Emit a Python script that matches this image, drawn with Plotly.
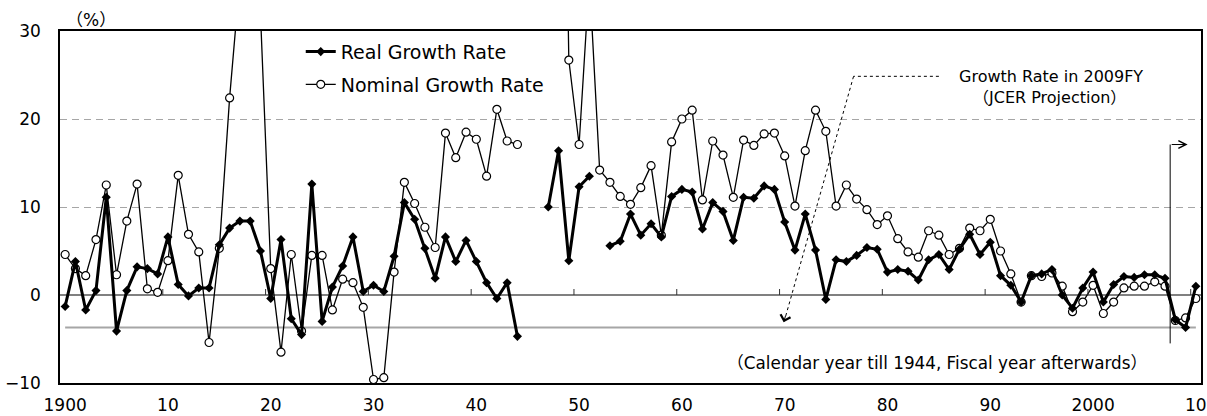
import plotly.graph_objects as go

# ---------------- data ----------------
years = list(range(1900, 2011))

real_growth = [
    -1.3, 3.8, -1.7, 0.5, 11.1, -4.1, 0.5, 3.2, 3.0, 2.4,          # 1900-1909
    6.6, 1.2, -0.1, 0.8, 0.8, 5.7, 7.6, 8.4, 8.4, 5.0,              # 1910-1919
    -0.4, 6.3, -2.7, -4.5, 12.6, -3.0, 0.9, 3.3, 6.6, 0.4,          # 1920-1929
    1.1, 0.4, 4.4, 10.5, 8.6, 5.3, 1.9, 6.6, 3.8, 6.2,              # 1930-1939
    3.8, 1.4, -0.4, 1.4, -4.7, None, None, 10.0, 16.4, 3.9,         # 1940-1949
    12.3, 13.5, None, 5.6, 6.1, 9.2, 6.8, 8.1, 6.6, 11.2,           # 1950-1959
    12.0, 11.7, 7.5, 10.5, 9.5, 6.2, 11.1, 11.0, 12.4, 12.0,        # 1960-1969
    8.3, 5.1, 9.2, 5.1, -0.5, 4.0, 3.8, 4.5, 5.4, 5.2,              # 1970-1979
    2.6, 2.9, 2.7, 1.7, 4.0, 4.6, 2.9, 5.2, 6.9, 4.6,               # 1980-1989
    6.0, 2.2, 1.1, -0.8, 2.2, 2.4, 2.9, 0.0, -1.5, 0.8,             # 1990-1999
    2.6, -0.8, 1.2, 2.1, 2.0, 2.3, 2.3, 1.9, -2.8, -3.7,            # 2000-2009
    1.0,                                                            # 2010
]

nominal_growth = [
    4.6, 3.0, 2.2, 6.3, 12.5, 2.3, 8.4, 12.6, 0.7, 0.3,             # 1900-1909
    3.9, 13.6, 6.9, 4.9, -5.4, 5.3, 22.4, 36.0, 40.0, 32.0,         # 1910-1919
    3.0, -6.5, 4.6, -4.1, 4.5, 4.5, -1.7, 1.8, 1.4, -1.4,           # 1920-1929
    -9.6, -9.4, 2.6, 12.8, 10.4, 7.7, 5.4, 18.4, 15.6, 18.5,        # 1930-1939
    17.7, 13.5, 21.1, 17.5, 17.1, None, None, 140.0, 100.0, 26.7,   # 1940-1949
    17.1, 36.0, 14.2, 12.8, 11.2, 10.3, 12.2, 14.7, 6.8, 17.4,      # 1950-1959
    20.0, 21.0, 10.8, 17.5, 15.9, 11.1, 17.6, 17.0, 18.3, 18.4,     # 1960-1969
    15.8, 10.1, 16.4, 21.0, 18.6, 10.1, 12.5, 10.9, 9.7, 8.0,       # 1970-1979
    9.0, 6.4, 4.9, 4.3, 7.3, 6.8, 4.6, 5.3, 7.6, 7.3,               # 1980-1989
    8.6, 5.0, 2.4, -0.8, 2.2, 2.1, 2.5, 1.0, -1.9, -0.8,            # 1990-1999
    1.1, -2.1, -0.8, 0.8, 1.0, 1.0, 1.5, 1.0, -2.9, -2.6,           # 2000-2009
    -0.4,                                                           # 2010
]

tick_years = [1900, 1910, 1920, 1930, 1940, 1950, 1960, 1970, 1980, 1990, 2000, 2010]
tick_labels = ["1900", "10", "20", "30", "40", "50", "60", "70", "80", "90", "2000", "10"]
y_ticks = [-10, 0, 10, 20, 30]
boundary_ticks = [y - 0.5 for y in tick_years[1:]]   # tick marks between categories

projection_year = 2009
projection_value = real_growth[years.index(projection_year)]
projection_start = 2007.5

FONT = "DejaVu Sans, Noto Sans CJK JP, sans-serif"

fig = go.Figure()

# horizontal reference line: 2009FY projected growth
fig.add_trace(go.Scatter(
    x=[years[0], years[-1]], y=[projection_value, projection_value],
    mode="lines", line=dict(color="#a6a6a6", width=2),
    showlegend=False, hoverinfo="skip"))

fig.add_trace(go.Scatter(
    x=years, y=nominal_growth, name="Nominal Growth Rate",
    mode="lines+markers", legendgroup="n", legendrank=2,
    line=dict(color="black", width=1.3),
    marker=dict(symbol="circle", size=8, color="white",
                line=dict(color="black", width=1.2))))

fig.add_trace(go.Scatter(
    x=years, y=real_growth, name="Real Growth Rate",
    mode="lines+markers", legendgroup="r", legendrank=1,
    line=dict(color="black", width=3),
    marker=dict(symbol="diamond", size=7, color="black")))

# tick marks sitting on the zero line
shapes = []
for bx in boundary_ticks:
    shapes.append(dict(type="line", xref="x", yref="y", x0=bx, x1=bx,
                       ysizemode="pixel", yanchor=0, y0=0, y1=6,
                       line=dict(color="#333333", width=1)))

# dotted leader for the JCER projection text
shapes.append(dict(type="line", xref="x", yref="y", x0=1985.0, y0=24.85, x1=1976.7, y1=24.85,
                   line=dict(color="black", width=1, dash="dot")))
shapes.append(dict(type="line", xref="x", yref="y", x0=1976.7, y0=24.85, x1=1969.95, y1=-3.0,
                   line=dict(color="black", width=1, dash="dot")))
# vertical projection marker
shapes.append(dict(type="line", xref="x", yref="y", x0=projection_start, x1=projection_start,
                   y0=-5.5, y1=17.1, line=dict(color="black", width=1)))

annotations = [
    dict(x=1969.9, y=-3.1, xref="x", yref="y", ax=2.3, ay=-8, text="",
         showarrow=True, arrowhead=4, arrowsize=2, arrowwidth=1, arrowcolor="black"),
    dict(x=2009.2, y=17.1, xref="x", yref="y", ax=projection_start, ay=17.1,
         axref="x", ayref="y", text="", showarrow=True, arrowhead=5,
         arrowsize=1.5, arrowwidth=1, arrowcolor="black"),
    dict(x=1995.9, y=24.85, xref="x", yref="y", text="Growth Rate in 2009FY",
         showarrow=False, font=dict(family=FONT, size=16, color="black")),
    dict(x=1995.8, y=22.4, xref="x", yref="y", text="（JCER Projection）",
         showarrow=False, font=dict(family=FONT, size=16, color="black")),
    dict(x=1984.8, y=-7.7, xref="x", yref="y",
         text="（Calendar year till 1944, Fiscal year afterwards）",
         showarrow=False, font=dict(family=FONT, size=16.8, color="black")),
    dict(x=0.027, y=1.03, xref="paper", yref="paper", xanchor="center", yanchor="middle",
         text="（%）", showarrow=False, font=dict(family=FONT, size=17, color="black")),
]

fig.update_layout(
    width=1207, height=416,
    margin=dict(l=60, r=6, t=31, b=33, autoexpand=False),
    paper_bgcolor="white", plot_bgcolor="white",
    font=dict(family=FONT, size=17, color="black"),
    shapes=shapes, annotations=annotations,
    showlegend=True,
    legend=dict(x=0.211, y=0.995, xanchor="left", yanchor="top",
                bgcolor="rgba(0,0,0,0)", borderwidth=0,
                font=dict(family=FONT, size=19, color="black"),
                traceorder="grouped", tracegroupgap=5),
)

fig.update_xaxes(
    range=[1899.5, 2010.5], tickmode="array", tickvals=tick_years, ticktext=tick_labels,
    showgrid=False, zeroline=False, ticks="", ticklabelstandoff=6, automargin=False,
    showline=True, mirror=True, linecolor="black", linewidth=1.5,
    tickfont=dict(family=FONT, size=17, color="black"))

fig.update_yaxes(
    range=[-10, 30], tickmode="array", tickvals=y_ticks,
    showgrid=True, gridcolor="#a6a6a6", gridwidth=1.2, griddash="7px,5px",
    zeroline=True, zerolinecolor="#808080", zerolinewidth=2,
    ticks="", ticklabelstandoff=14, automargin=False,
    showline=True, mirror=True, linecolor="black", linewidth=1.5,
    tickfont=dict(family=FONT, size=17, color="black"))

# remove the default 8px page margin so the figure fills the window exactly
fig.write_html("out.html",
               config={"displayModeBar": False},
               post_script="document.body.style.margin='0';document.body.style.overflow='hidden';")
